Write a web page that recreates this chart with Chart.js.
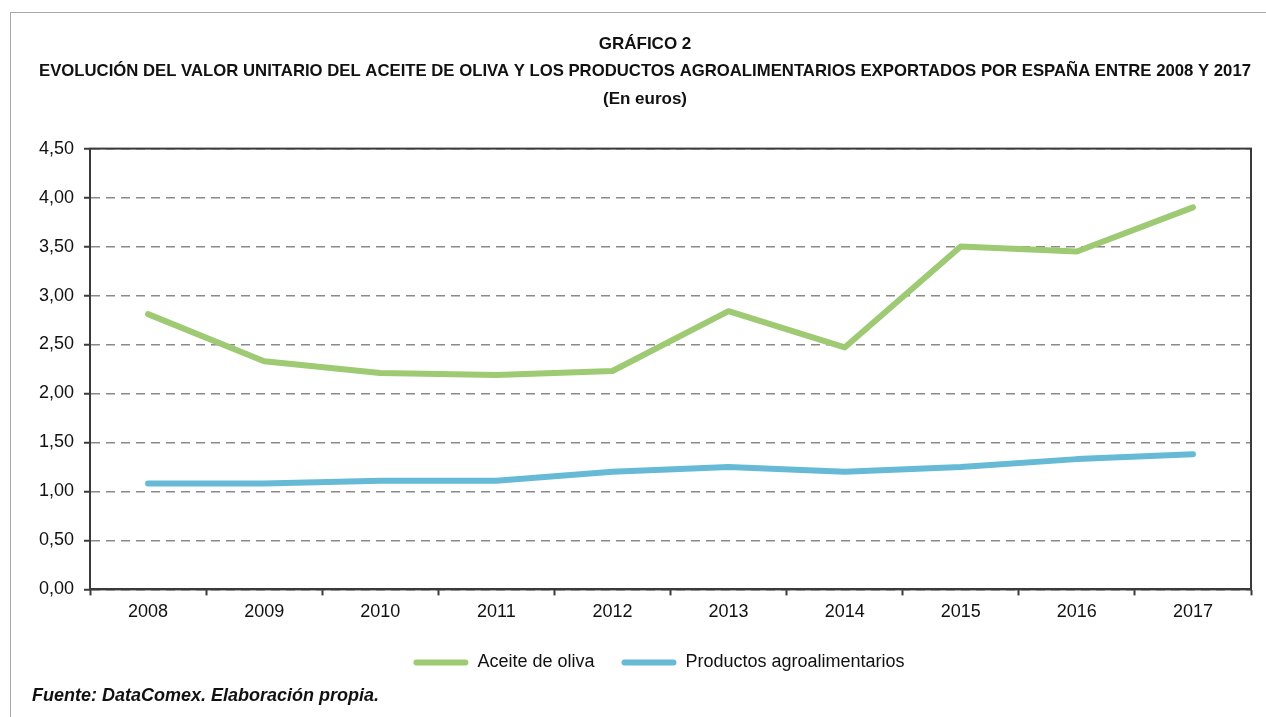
<!DOCTYPE html>
<html>
<head>
<meta charset="utf-8">
<script src="https://cdn.jsdelivr.net/npm/chart.js@4"></script>
<style>
    body { margin: 0; background: #fff; }
    #frame { position: absolute; left: 10px; top: 12px; width: 1256px; height: 705px;
             border-top: 1px solid #a8a8a8; border-left: 1px solid #a8a8a8; }
    #wrap { position: absolute; left: 0; top: 0; width: 1266px; height: 717px; }
</style>
</head>
<body>
<div id="frame"></div>
<div id="wrap"><canvas id="myChart" width="1266" height="717"></canvas></div>
<script>
/* data */
const years = ['2008', '2009', '2010', '2011', '2012', '2013', '2014', '2015', '2016', '2017'];
const aceite = [2.81, 2.33, 2.21, 2.19, 2.23, 2.84, 2.47, 3.50, 3.45, 3.90];
const agro = [1.08, 1.08, 1.11, 1.11, 1.20, 1.25, 1.20, 1.25, 1.33, 1.38];
const yTicks = [0, 0.5, 1, 1.5, 2, 2.5, 3, 3.5, 4, 4.5];

const green = '#9dca72';
const blue = '#66bad5';
const fontFam = '"Liberation Sans", Arial, Helvetica, sans-serif';

// caja del area del grafico
const frameBox = {
    id: 'frameBox',
    afterLayout(chart) {
        // leyenda algo desplazada a la derecha, fuente pegada a la izquierda
        chart.legend.left += 14;
        chart.legend.right += 14;
        const sub = chart.boxes.find(b => b.options && b.options.text === chart.options.plugins.subtitle.text);
        if (sub) { sub.left -= 7; sub.right -= 7; }
    },
    afterDatasetsDraw(chart) {
        const a = chart.chartArea;
        const ctx = chart.ctx;
        ctx.save();
        ctx.strokeStyle = '#3a3a3a';
        ctx.lineWidth = 2;
        ctx.strokeRect(a.left, a.top, a.right - a.left, a.bottom - a.top);
        ctx.restore();
    }
};

const data = {
    labels: years,
    datasets: [{
        label: 'Aceite de oliva',
        data: aceite,
        borderColor: green,
        backgroundColor: green,
        borderWidth: 6,
        borderCapStyle: 'round',
        borderJoinStyle: 'round',
        pointRadius: 0,
        tension: 0
    }, {
        label: 'Productos agroalimentarios',
        data: agro,
        borderColor: blue,
        backgroundColor: blue,
        borderWidth: 6,
        borderCapStyle: 'round',
        borderJoinStyle: 'round',
        pointRadius: 0,
        tension: 0
    }]
};

const config = {
    type: 'line',
    data: data,
    options: {
        responsive: false,
        animation: false,
        layout: { padding: { left: 39, right: 15, top: 0, bottom: 6 } },
        plugins: {
            title: {
                display: true,
                text: ['GRÁFICO 2',
                    'EVOLUCIÓN DEL VALOR UNITARIO DEL ACEITE DE OLIVA Y LOS PRODUCTOS AGROALIMENTARIOS EXPORTADOS POR ESPAÑA ENTRE 2008 Y 2017',
                    '(En euros)'],
                color: '#111',
                font: { family: fontFam, size: 17, weight: 'bold', lineHeight: 1.6 },
                padding: { top: 31, bottom: 36 }
            },
            subtitle: {
                display: true,
                position: 'bottom',
                align: 'start',
                text: 'Fuente: DataComex. Elaboración propia.',
                color: '#111',
                font: { family: fontFam, size: 18, weight: 'bold', style: 'italic' },
                padding: { top: 4, bottom: 4 }
            },
            legend: {
                position: 'bottom',
                labels: {
                    color: '#111',
                    font: { family: fontFam, size: 18 },
                    boxWidth: 55,
                    boxHeight: 6,
                    padding: 27,
                    generateLabels(chart) {
                        return chart.data.datasets.map((ds, i) => ({
                            text: ds.label,
                            fillStyle: ds.borderColor,
                            strokeStyle: ds.borderColor,
                            lineWidth: 0,
                            borderRadius: 3,
                            datasetIndex: i,
                            fontColor: '#111'
                        }));
                    }
                }
            },
            tooltip: { enabled: false }
        },
        scales: {
            x: {
                offset: true,
                grid: {
                    offset: true,
                    drawOnChartArea: false,
                    drawTicks: true,
                    tickLength: 6,
                    tickColor: '#3a3a3a',
                    tickWidth: 2
                },
                border: { color: '#3a3a3a', width: 2 },
                ticks: {
                    color: '#111',
                    font: { family: fontFam, size: 18 },
                    padding: 6,
                    maxRotation: 0
                },
                afterFit(scale) { scale.height = 37; }
            },
            y: {
                min: 0,
                max: 4.5,
                afterBuildTicks(scale) {
                    scale.ticks = yTicks.map(v => ({ value: v }));
                },
                grid: {
                    color: '#8a8a8a',
                    lineWidth: 1.5,
                    tickLength: 6,
                    tickColor: '#3a3a3a',
                    tickWidth: 2
                },
                border: { color: '#3a3a3a', width: 2, dash: [9, 6] },
                ticks: {
                    color: '#111',
                    font: { family: fontFam, size: 18 },
                    padding: 10,
                    callback: (v) => Number(v).toFixed(2).replace('.', ',')
                },
                afterFit(scale) { scale.width = 51; }
            }
        }
    },
    plugins: [frameBox]
};

const myChart = new Chart(document.getElementById('myChart'), config);
</script>
</body>
</html>
